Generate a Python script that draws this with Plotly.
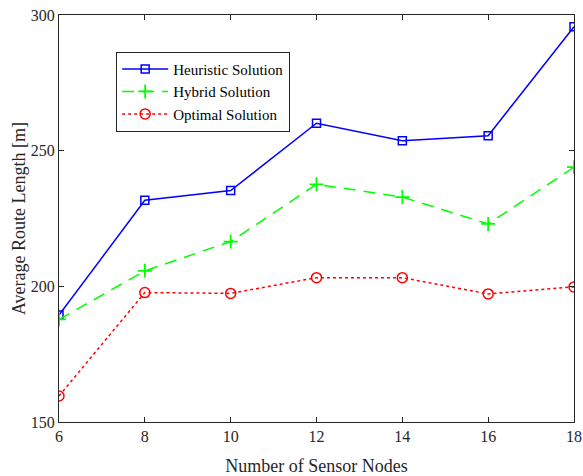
import plotly.graph_objects as go

nodes = [6, 8, 10, 12, 14, 16, 18]
heuristic = [189.4, 231.7, 235.3, 260.1, 253.7, 255.5, 295.7]
hybrid = [187.8, 205.7, 216.5, 237.6, 232.9, 223.0, 243.9]
optimal = [159.6, 197.7, 197.4, 203.2, 203.2, 197.2, 199.8]

font = "Liberation Serif"
axcol = "#262626"

fig = go.Figure()
fig.add_trace(go.Scatter(x=nodes, y=heuristic, name="Heuristic Solution", mode="lines+markers",
                         line=dict(color="#0000ff", width=1.5),
                         marker=dict(symbol="square-open", size=8, color="#0000ff", line=dict(width=1.5))))
fig.add_trace(go.Scatter(x=nodes, y=hybrid, name="Hybrid Solution", mode="lines+markers",
                         line=dict(color="#00ff00", width=1.5, dash="12px,8px"),
                         marker=dict(symbol="cross-thin-open", size=10, color="#00ff00", line=dict(width=1.8, color="#00ff00"))))
fig.add_trace(go.Scatter(x=nodes, y=optimal, name="Optimal Solution", mode="lines+markers",
                         line=dict(color="#ff0000", width=1.5, dash="dot"),
                         marker=dict(symbol="circle-open", size=10, color="#ff0000", line=dict(width=1.5))))

axis_common = dict(showline=True, linecolor=axcol, linewidth=1, mirror="ticks", ticks="inside",
                   ticklen=5, tickcolor=axcol, showgrid=False, zeroline=False,
                   ticklabeloverflow="allow", automargin=False,
                   tickfont=dict(family=font, size=16, color=axcol))

fig.update_layout(
    width=583, height=476,
    margin=dict(l=59, r=9, t=15, b=54),
    paper_bgcolor="white", plot_bgcolor="white",
    font=dict(family=font, color=axcol),
    xaxis=dict(range=[6, 18], tickvals=nodes, title=dict(text="Number of Sensor Nodes", font=dict(family=font, size=18, color=axcol), standoff=16), **axis_common),
    yaxis=dict(range=[150, 300], tickvals=[150, 200, 250, 300], title=dict(text="Average Route Length [m]", font=dict(family=font, size=18, color=axcol), standoff=0), **axis_common),
    legend=dict(x=0.111, y=0.91, xanchor="left", yanchor="top", bgcolor="white",
                bordercolor=axcol, borderwidth=1, font=dict(family=font, size=15, color="black"),
                tracegroupgap=0, itemwidth=46),
    showlegend=True,
)

fig.write_html("out.html", config={"displayModeBar": False},
               post_script="document.body.style.margin='0';document.body.style.overflow='hidden';")
